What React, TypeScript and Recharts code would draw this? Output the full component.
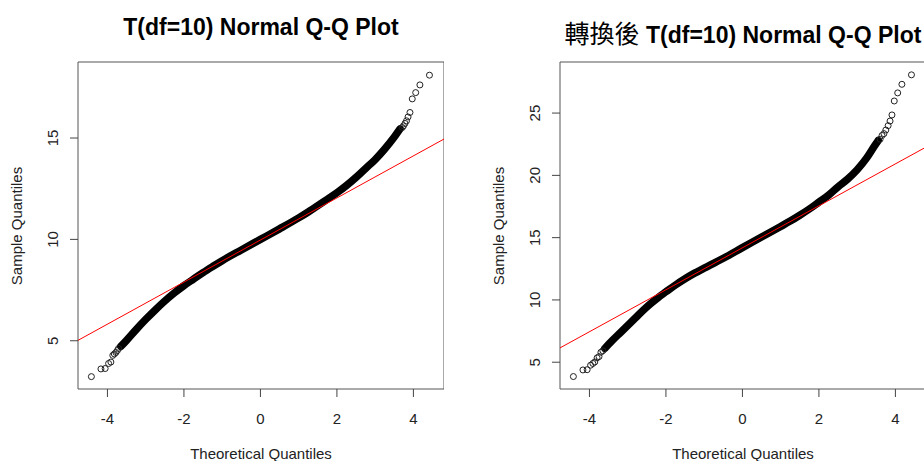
import { ComposedChart, Line, Scatter, XAxis, YAxis, ReferenceArea } from 'recharts';

const FONT = '"Liberation Sans", Arial, sans-serif';

// shared axis setup (theoretical quantiles)
const xDomain = [-4.77, 4.8];
const xTicks = [-4, -2, 0, 2, 4];

// T(df=10) sample, dense middle band
const origBandQ = [-3.65, -3.5, -3.25, -3, -2.75, -2.5, -2.25, -2, -1.75, -1.5, -1.25, -1, -0.5, 0, 0.5, 1, 1.25, 1.5, 1.75, 2, 2.25, 2.5, 2.75, 3, 3.25, 3.5, 3.65];
const origBandS = [4.72, 5.02, 5.55, 6.05, 6.52, 6.96, 7.36, 7.72, 8.04, 8.36, 8.66, 8.95, 9.48, 10.0, 10.52, 11.06, 11.35, 11.66, 11.98, 12.3, 12.66, 13.06, 13.5, 13.94, 14.46, 15.05, 15.45];
// sparse points in the tails
const origTailQ = [-4.42, -4.17, -4.06, -3.97, -3.91, -3.86, -3.82, -3.78, -3.74, -3.71, 3.71, 3.74, 3.78, 3.82, 3.86, 3.91, 3.97, 4.06, 4.17, 4.42];
const origTailS = [3.23, 3.61, 3.63, 3.88, 3.95, 4.28, 4.35, 4.42, 4.52, 4.62, 15.52, 15.6, 15.72, 15.85, 16.04, 16.26, 16.93, 17.24, 17.62, 18.1];
const origLineQ = [-4.77, 4.8];
const origLineS = [5.02, 14.95];
const origYDomain = [2.62, 18.75];
const origYTicks = [5, 10, 15];

// after transformation
const tranBandQ = [-3.6, -3.4, -3.2, -3, -2.8, -2.6, -2.4, -2.2, -2, -1.75, -1.5, -1.25, -1, -0.5, 0, 0.5, 1, 1.25, 1.5, 1.75, 2, 2.25, 2.5, 2.75, 3, 3.25, 3.45, 3.55];
const tranBandS = [6.1, 6.75, 7.35, 7.95, 8.55, 9.15, 9.7, 10.2, 10.65, 11.2, 11.7, 12.15, 12.55, 13.35, 14.2, 15.05, 15.9, 16.33, 16.8, 17.3, 17.85, 18.4, 19.08, 19.7, 20.45, 21.4, 22.35, 22.8];
const tranTailQ = [-4.42, -4.17, -4.06, -3.97, -3.91, -3.86, -3.8, -3.75, -3.7, -3.65, 3.6, 3.65, 3.7, 3.75, 3.81, 3.86, 3.91, 3.97, 4.06, 4.17, 4.42];
const tranTailS = [3.85, 4.38, 4.4, 4.76, 4.9, 5.02, 5.35, 5.45, 5.8, 5.92, 22.9, 23.2, 23.35, 23.64, 23.99, 24.36, 24.85, 25.97, 26.62, 27.31, 28.07];
const tranLineQ = [-4.77, 4.8];
const tranLineS = [6.15, 22.27];
const tranYDomain = [2.85, 29.1];
const tranYTicks = [5, 10, 15, 20, 25];

const zip = (q: number[], s: number[]) => q.map((x, i) => ({ x, y: s[i] }));

const PLOT_W = 366;
const PLOT_TOP = 62;
const PLOT_H = 327;
const YAXIS_W = 78;

const XTick = (p: any) => (
  <text x={p.x} y={p.y} textAnchor="middle" fontSize={15} fill="#222" fontFamily={FONT}>
    {p.payload.value}
  </text>
);

const YTick = (p: any) => (
  <text x={p.x} y={p.y} transform={`rotate(-90 ${p.x} ${p.y})`} textAnchor="middle" fontSize={15} fill="#222" fontFamily={FONT}>
    {p.payload.value}
  </text>
);

type PanelProps = {
  left: number;
  marginLeft: number;
  title: React.ReactNode;
  band: { x: number; y: number }[];
  tails: { x: number; y: number }[];
  qqline: { x: number; y: number }[];
  yDomain: number[];
  yTicks: number[];
};

function QQPanel({ left, marginLeft, title, band, tails, qqline, yDomain, yTicks }: PanelProps) {
  const width = marginLeft + YAXIS_W + PLOT_W;
  const plotLeft = marginLeft + YAXIS_W;
  return (
    <div style={{ position: 'absolute', left, top: 0, width, height: 461 }}>
      <div style={{ position: 'absolute', left: plotLeft, width: PLOT_W, top: 14, textAlign: 'center', font: `bold 23px ${FONT}`, whiteSpace: 'nowrap', color: '#000' }}>
        {title}
      </div>
      <div style={{ position: 'absolute', left: plotLeft, width: PLOT_W, top: 446, textAlign: 'center', font: `15px ${FONT}`, lineHeight: '15px', color: '#222', whiteSpace: 'nowrap' }}>
        Theoretical Quantiles
      </div>
      <div style={{ position: 'absolute', left: plotLeft - 62, top: PLOT_TOP + PLOT_H / 2, width: 0, height: 0 }}>
        <div style={{ position: 'absolute', left: 0, top: 0, transform: 'translate(-50%, -50%) rotate(-90deg)', font: `15px ${FONT}`, lineHeight: '15px', color: '#222', whiteSpace: 'nowrap' }}>
          Sample Quantiles
        </div>
      </div>
      <ComposedChart width={width} height={461} margin={{ top: PLOT_TOP, right: 0, bottom: 0, left: marginLeft }}>
        <XAxis type="number" dataKey="x" domain={xDomain} ticks={xTicks} allowDataOverflow height={461 - PLOT_TOP - PLOT_H}
          axisLine={false} tickLine={{ stroke: '#444' }} tickSize={8} tickMargin={27} tick={<XTick />} interval={0} />
        <YAxis type="number" dataKey="y" domain={yDomain} ticks={yTicks} allowDataOverflow width={YAXIS_W}
          axisLine={false} tickLine={{ stroke: '#444' }} tickSize={8} tickMargin={12} tick={<YTick />} interval={0} />
        <ReferenceArea x1={xDomain[0]} x2={xDomain[1]} y1={yDomain[0]} y2={yDomain[1]} fill="none" stroke="#555" strokeWidth={1} fillOpacity={0} ifOverflow="visible" />
        <Line data={band} dataKey="y" type="monotone" stroke="#000" strokeWidth={7.5} strokeLinecap="round" strokeLinejoin="round" dot={false} isAnimationActive={false} />
        <Scatter data={tails} dataKey="y" isAnimationActive={false}
          shape={(p: any) => <circle cx={p.cx} cy={p.cy} r={3} fill="none" stroke="#222" strokeWidth={1} />} />
        <Line data={qqline} dataKey="y" type="linear" stroke="#ff0000" strokeWidth={1} dot={false} isAnimationActive={false} />
      </ComposedChart>
    </div>
  );
}

export default function App() {
  return (
    <div style={{ position: 'absolute', left: 0, top: 0, width: 924, height: 461, overflow: 'hidden', background: '#fff' }}>
      <QQPanel left={0} marginLeft={0} title="T(df=10) Normal Q-Q Plot"
        band={zip(origBandQ, origBandS)} tails={zip(origTailQ, origTailS)} qqline={zip(origLineQ, origLineS)}
        yDomain={origYDomain} yTicks={origYTicks} />
      <QQPanel left={462} marginLeft={20}
        title={<><span style={{ fontWeight: 'normal', fontSize: 25, fontFamily: '"Noto Sans CJK TC", sans-serif' }}>轉換後</span> T(df=10) Normal Q-Q Plot</>}
        band={zip(tranBandQ, tranBandS)} tails={zip(tranTailQ, tranTailS)} qqline={zip(tranLineQ, tranLineS)}
        yDomain={tranYDomain} yTicks={tranYTicks} />
    </div>
  );
}
